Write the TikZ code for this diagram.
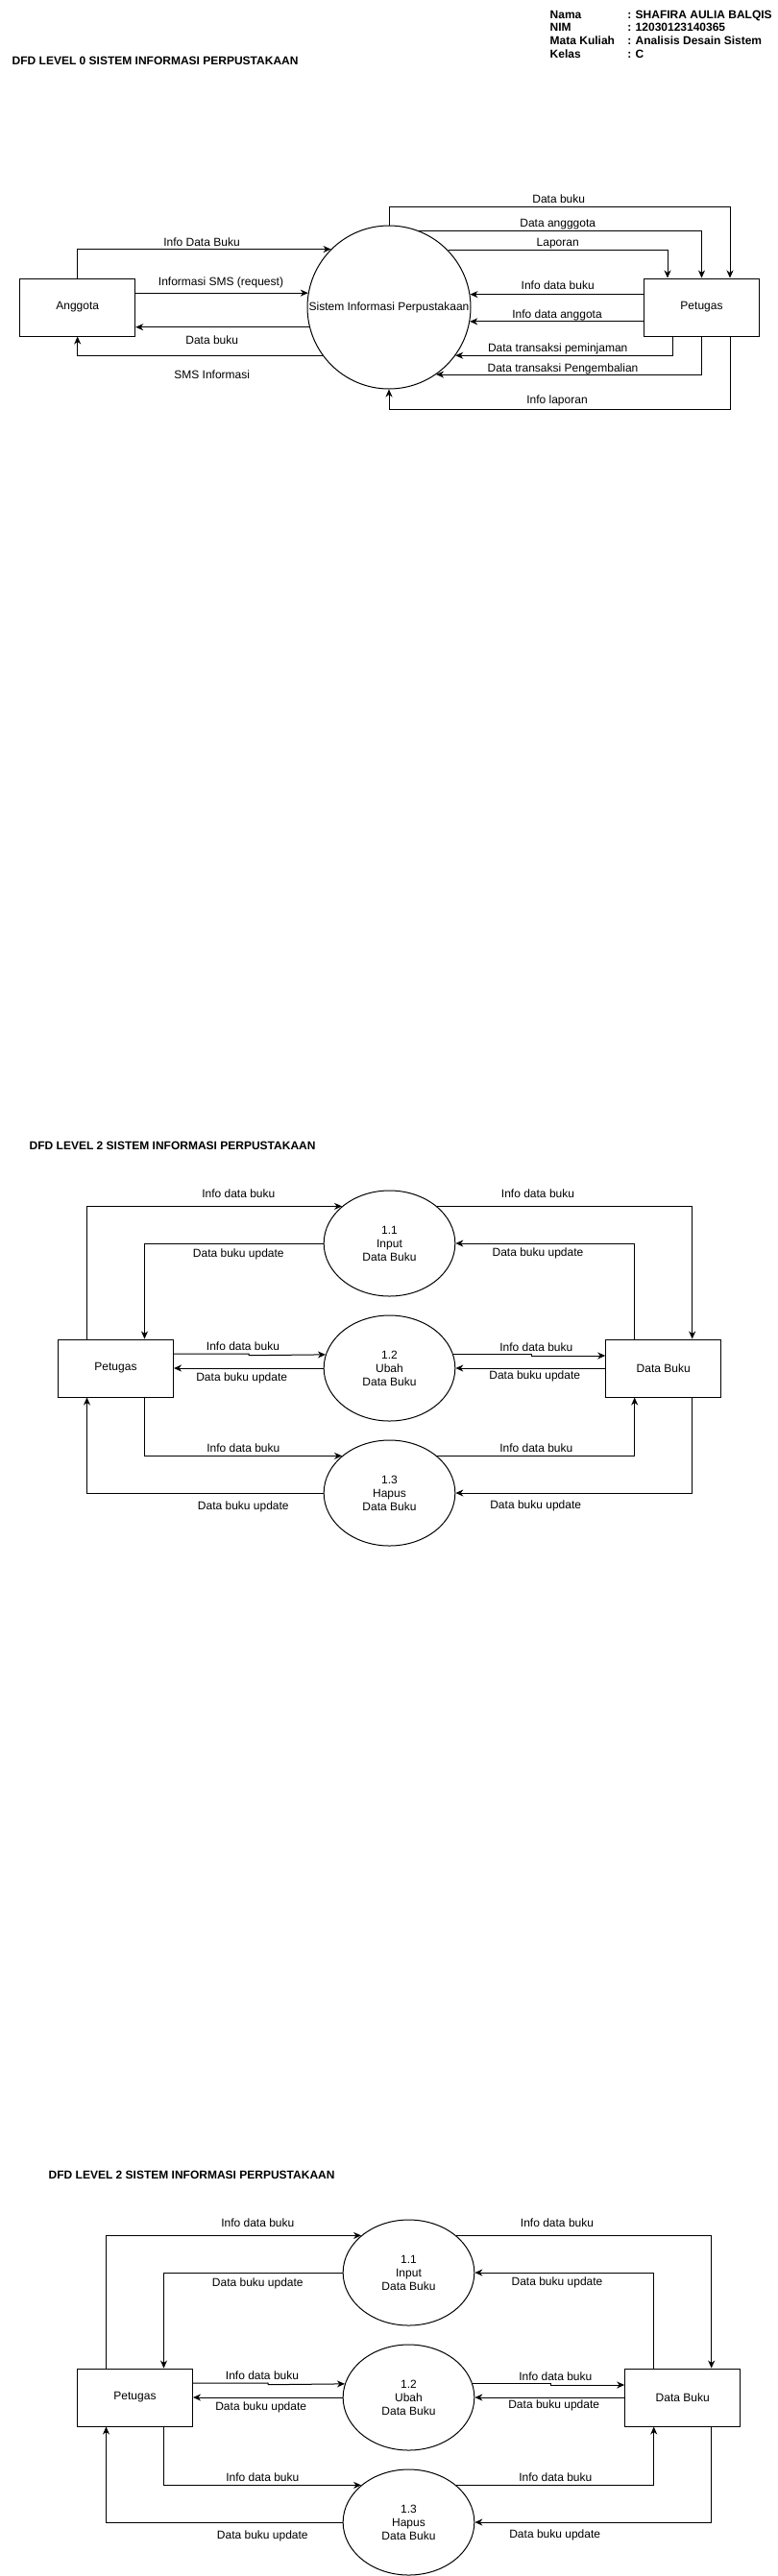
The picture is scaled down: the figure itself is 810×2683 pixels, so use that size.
\documentclass[tikz,border=0pt]{standalone}
\usepackage{fontspec}
\setmainfont{Liberation Sans}
\usetikzlibrary{arrows.meta,shapes.geometric}
\tikzset{
 txt/.style={font=\fontsize{12}{14}\selectfont, inner sep=0pt, outer sep=0pt, text height=8.6pt, text depth=0pt},
 btxt/.style={txt, font=\fontsize{12}{14}\selectfont\bfseries},
 ent/.style={draw, line width=1pt, minimum width=120pt, minimum height=60pt, inner sep=0pt, font=\fontsize{12}{14}\selectfont},
 proc/.style={draw, ellipse, line width=1pt, minimum width=136.7pt, minimum height=110pt, inner sep=0pt, align=center, font=\fontsize{12}{14}\selectfont},
 arr/.style={line width=1pt, -{Stealth[length=8pt,width=7pt,inset=2.5pt]}},
}
\newcommand\lvltwo[1]{%
 \node[btxt, anchor=west] (#1title) at (30.7,1193.3) {DFD LEVEL 2 SISTEM INFORMASI PERPUSTAKAAN};
 \node[ent] (#1p) at (120.5,1425) {Petugas};
 \node[ent] (#1d) at (690.7,1425) {Data Buku};
 \node[proc] (#1a) at (405.5,1295) {1.1\\Input\\Data Buku};
 \node[proc] (#1b) at (405.5,1425) {1.2\\Ubah\\Data Buku};
 \node[proc] (#1c) at (405.5,1555) {1.3\\Hapus\\Data Buku};
 \draw[arr] ([xshift=-30pt]#1p.north) |- (#1a.142);
 \draw[arr] (#1a.west) -| ([xshift=30pt]#1p.north);
 \draw[arr] (#1a.38) -| ([xshift=30pt]#1d.north);
 \draw[arr] ([xshift=-30pt]#1d.north) |- (#1a.east);
 \draw[arr] (#1p.east |- 0,1410) -| (259,1411.7) -- (#1b.168.7);
 \draw[arr] (#1b.west) -- (#1p.east);
 \draw[arr] (#1b.12.2) -| (553,1412) -- (#1d.west |- 0,1412);
 \draw[arr] (#1d.west) -- (#1b.east);
 \draw[arr] ([xshift=30pt]#1p.south) |- (#1c.142);
 \draw[arr] (#1c.west) -| ([xshift=-30pt]#1p.south);
 \draw[arr] (#1c.38) -| ([xshift=-30pt]#1d.south);
 \draw[arr] ([xshift=30pt]#1d.south) |- (#1c.east);
 \node[txt] (#1l1) at (248.3,1242.7) {Info data buku};
 \node[txt] (#1l2) at (248.3,1305) {Data buku update};
 \node[txt] (#1l3) at (560,1243.3) {Info data buku};
 \node[txt] (#1l4) at (560,1304) {Data buku update};
 \node[txt] (#1l5) at (253,1402.3) {Info data buku};
 \node[txt] (#1l6) at (251.7,1434.3) {Data buku update};
 \node[txt] (#1l7) at (558.3,1402.7) {Info data buku};
 \node[txt] (#1l8) at (556.7,1432.3) {Data buku update};
 \node[txt] (#1l9) at (253.3,1507.7) {Info data buku};
 \node[txt] (#1l10) at (253.3,1568.3) {Data buku update};
 \node[txt] (#1l11) at (558.3,1507.7) {Info data buku};
 \node[txt] (#1l12) at (557.7,1566.7) {Data buku update};
}
\begin{document}
\begin{tikzpicture}[x=1pt,y=-1pt]
\fill[white] (0,0) rectangle (810,2683);
\useasboundingbox (0,0) rectangle (810,2683);
% header
\node[btxt, anchor=west] (hn) at (572.7,15) {Nama};
\node[btxt, anchor=west] (hnv) at (653.3,15) {: SHAFIRA AULIA BALQIS};
\node[btxt, anchor=west] (hi) at (572.7,28.67) {NIM};
\node[btxt, anchor=west] (hiv) at (653.3,28.67) {: 12030123140365};
\node[btxt, anchor=west] (hm) at (572.7,42.33) {Mata Kuliah};
\node[btxt, anchor=west] (hmv) at (653.3,42.33) {: Analisis Desain Sistem};
\node[btxt, anchor=west] (hk) at (572.7,56) {Kelas};
\node[btxt, anchor=west] (hkv) at (653.3,56) {: C};
% level 0
\node[btxt, anchor=west] (t0) at (12.7,63.3) {DFD LEVEL 0 SISTEM INFORMASI PERPUSTAKAAN};
\node[ent] (A) at (80.7,320) {Anggota};
\node[ent] (P0) at (730.5,320) {Petugas};
\node[draw, circle, line width=1pt, minimum size=170pt, inner sep=0pt, font=\fontsize{12}{14}\selectfont] (C) at (405,320) {Sistem Informasi Perpustakaan};
\draw[arr] (A.north) |- (C.135.1);
\draw[arr] (A.east |- C.170.3) -- (C.170.3);
\draw[arr] (C.194.1) -- (A.east |- C.194.1);
\draw[arr] (C.216.9) -| (A.south);
\draw[arr] (C.north) -- (C.north |- 0,215) -| ([xshift=29.5pt]P0.north);
\draw[arr] (C.69) -| (P0.north);
\draw[arr] (C.44.6) -| ([xshift=-35.5pt]P0.north);
\draw[arr] (P0.west |- C.9.7) -- (C.9.7);
\draw[arr] (P0.west |- C.-10.4) -- (C.-10.4);
\draw[arr] ([xshift=-29.8pt]P0.south) |- (C.-36.3);
\draw[arr] (P0.south) |- (C.-55.8);
\draw[arr] ([xshift=29.5pt]P0.south) -- ([xshift=29.5pt]P0.south |- 0,426) -| (C.south);
\node[txt] (l01) at (210,251.7) {Info Data Buku};
\node[txt] (l02) at (230,292.7) {Informasi SMS (request)};
\node[txt] (l03) at (220.7,354) {Data buku};
\node[txt] (l04) at (220.7,390) {SMS Informasi};
\node[txt] (l05) at (581.7,206.7) {Data buku};
\node[txt] (l06) at (580.7,232.3) {Data angggota};
\node[txt] (l07) at (580.7,252.3) {Laporan};
\node[txt] (l08) at (580.7,297.3) {Info data buku};
\node[txt] (l09) at (580,327.3) {Info data anggota};
\node[txt] (l10) at (580.7,361.7) {Data transaksi peminjaman};
\node[txt] (l11) at (586,382.7) {Data transaksi Pengembalian};
\node[txt] (l12) at (580,416) {Info laporan};
% level 2 (twice)
\begin{scope}
\lvltwo{f}
\end{scope}
\begin{scope}[shift={(20,1072)}]
\lvltwo{s}
\end{scope}
\end{tikzpicture}
\end{document}
